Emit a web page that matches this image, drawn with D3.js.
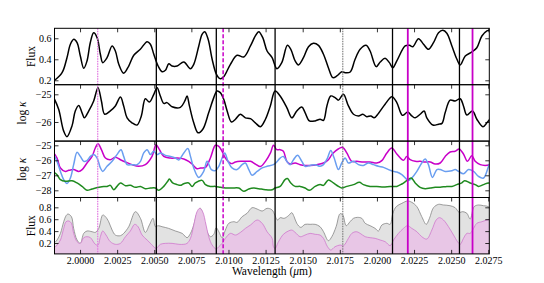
<!DOCTYPE html>
<html>
<head>
<meta charset="utf-8">
<script src="https://cdn.jsdelivr.net/npm/d3@7"></script>
<style>
  body { margin: 0; background: #fff; }
  text { font-family: "Liberation Serif", "Times New Roman", serif; }
</style>
</head>
<body>
<svg id="chart" width="544" height="283"></svg>
<script>
// observed flux (top panel)
const fluxObs = [[1.99823,0.193],[1.99879,0.272],[1.99912,0.415],[1.99935,0.543],[1.99958,0.590],[1.99980,0.558],[2.00002,0.431],[2.00025,0.314],[2.00047,0.384],[2.00069,0.558],[2.00092,0.653],[2.00115,0.606],[2.00137,0.448],[2.00153,0.368],[2.00182,0.415],[2.00216,0.527],[2.00238,0.479],[2.00261,0.352],[2.00294,0.267],[2.00328,0.336],[2.00362,0.438],[2.00406,0.495],[2.00452,0.568],[2.00474,0.543],[2.00497,0.448],[2.00526,0.336],[2.00553,0.282],[2.00575,0.295],[2.00598,0.358],[2.00620,0.336],[2.00654,0.336],[2.00699,0.374],[2.00743,0.310],[2.00766,0.352],[2.00800,0.527],[2.00822,0.638],[2.00840,0.663],[2.00863,0.590],[2.00890,0.400],[2.00919,0.257],[2.00945,0.215],[2.00968,0.234],[2.01013,0.352],[2.01058,0.438],[2.01103,0.422],[2.01148,0.527],[2.01181,0.622],[2.01204,0.663],[2.01231,0.606],[2.01260,0.479],[2.01294,0.415],[2.01326,0.310],[2.01359,0.368],[2.01397,0.533],[2.01420,0.495],[2.01449,0.384],[2.01471,0.346],[2.01505,0.415],[2.01539,0.520],[2.01572,0.552],[2.01606,0.533],[2.01640,0.448],[2.01673,0.320],[2.01703,0.225],[2.01730,0.241],[2.01764,0.282],[2.01786,0.272],[2.01820,0.279],[2.01853,0.400],[2.01887,0.495],[2.01927,0.533],[2.01954,0.479],[2.01995,0.330],[2.02022,0.374],[2.02055,0.410],[2.02084,0.368],[2.02107,0.320],[2.02134,0.384],[2.02190,0.527],[2.02219,0.533],[2.02242,0.520],[2.02280,0.596],[2.02314,0.543],[2.02347,0.495],[2.02381,0.558],[2.02415,0.653],[2.02444,0.676],[2.02471,0.648],[2.02505,0.527],[2.02539,0.400],[2.02561,0.346],[2.02595,0.431],[2.02640,0.470],[2.02673,0.510],[2.02707,0.622],[2.02741,0.670],[2.02763,0.679]];

// total opacity (second panel)
const logKappaTotal = [[1.99823,-25.12],[1.99856,-25.54],[1.99890,-26.33],[1.99912,-26.53],[1.99946,-26.14],[1.99968,-25.60],[1.99991,-25.40],[2.00013,-25.66],[2.00029,-25.85],[2.00059,-25.60],[2.00092,-25.24],[2.00121,-24.76],[2.00144,-25.24],[2.00166,-25.72],[2.00204,-25.60],[2.00238,-25.42],[2.00272,-25.10],[2.00294,-25.42],[2.00317,-25.85],[2.00350,-26.03],[2.00384,-26.11],[2.00413,-25.78],[2.00440,-25.16],[2.00467,-25.28],[2.00497,-25.00],[2.00519,-24.76],[2.00541,-25.06],[2.00564,-25.33],[2.00586,-25.30],[2.00620,-25.45],[2.00676,-25.47],[2.00706,-25.24],[2.00721,-25.06],[2.00737,-25.42],[2.00766,-26.03],[2.00795,-26.39],[2.00827,-26.26],[2.00867,-25.66],[2.00901,-25.12],[2.00923,-24.88],[2.00945,-24.94],[2.00968,-25.18],[2.00991,-25.60],[2.01020,-26.00],[2.01047,-25.90],[2.01080,-25.72],[2.01114,-25.85],[2.01148,-25.88],[2.01181,-26.03],[2.01215,-26.17],[2.01249,-25.90],[2.01282,-25.42],[2.01314,-24.88],[2.01348,-25.06],[2.01393,-25.48],[2.01427,-25.85],[2.01460,-25.60],[2.01494,-25.46],[2.01516,-25.66],[2.01545,-25.96],[2.01584,-25.96],[2.01617,-25.90],[2.01640,-25.94],[2.01663,-25.42],[2.01689,-25.06],[2.01718,-25.12],[2.01741,-25.21],[2.01774,-25.00],[2.01808,-25.42],[2.01842,-25.72],[2.01876,-25.78],[2.01905,-25.72],[2.01932,-25.81],[2.01959,-25.78],[2.01981,-25.85],[2.02010,-25.69],[2.02055,-25.36],[2.02101,-25.09],[2.02134,-25.30],[2.02172,-25.76],[2.02208,-25.64],[2.02235,-25.78],[2.02258,-25.85],[2.02291,-25.72],[2.02318,-25.60],[2.02336,-25.85],[2.02377,-26.11],[2.02415,-26.08],[2.02438,-26.05],[2.02460,-25.66],[2.02493,-25.21],[2.02527,-25.24],[2.02561,-25.16],[2.02583,-25.42],[2.02606,-25.75],[2.02644,-25.60],[2.02673,-25.90],[2.02714,-26.17],[2.02741,-26.03],[2.02768,-25.85]];

// opacity components (third panel)
const kappaMagenta = [[1.99823,-25.51],[1.99845,-25.85],[1.99868,-26.51],[1.99901,-26.74],[1.99924,-26.67],[1.99957,-26.62],[1.99991,-26.74],[2.00014,-26.62],[2.00047,-26.18],[2.00081,-25.74],[2.00103,-25.18],[2.00121,-24.89],[2.00144,-25.29],[2.00171,-25.85],[2.00204,-25.96],[2.00238,-25.80],[2.00272,-25.96],[2.00306,-26.11],[2.00350,-26.29],[2.00395,-26.40],[2.00440,-26.29],[2.00485,-25.74],[2.00512,-24.96],[2.00535,-25.29],[2.00564,-25.74],[2.00609,-25.85],[2.00654,-25.85],[2.00699,-25.91],[2.00732,-26.07],[2.00755,-26.25],[2.00788,-26.56],[2.00811,-26.51],[2.00845,-26.47],[2.00878,-25.85],[2.00912,-25.00],[2.00935,-25.07],[2.00957,-25.40],[2.00979,-25.85],[2.01018,-26.22],[2.01047,-26.11],[2.01081,-26.07],[2.01114,-26.07],[2.01148,-26.07],[2.01182,-26.25],[2.01215,-26.42],[2.01249,-26.07],[2.01283,-25.51],[2.01303,-25.00],[2.01325,-25.29],[2.01348,-25.29],[2.01370,-25.40],[2.01393,-26.07],[2.01415,-26.25],[2.01449,-26.18],[2.01483,-26.29],[2.01516,-26.34],[2.01550,-26.34],[2.01595,-26.29],[2.01640,-26.18],[2.01673,-25.96],[2.01696,-25.62],[2.01718,-25.40],[2.01770,-25.14],[2.01797,-25.51],[2.01831,-26.07],[2.01864,-26.07],[2.01909,-26.11],[2.01954,-26.11],[2.01999,-26.18],[2.02033,-26.02],[2.02067,-25.51],[2.02100,-25.18],[2.02134,-25.58],[2.02179,-26.00],[2.02201,-25.74],[2.02224,-25.96],[2.02258,-26.07],[2.02291,-26.07],[2.02325,-26.11],[2.02359,-26.11],[2.02392,-26.25],[2.02426,-26.18],[2.02460,-25.74],[2.02493,-25.45],[2.02527,-25.40],[2.02554,-25.25],[2.02583,-25.58],[2.02610,-26.07],[2.02639,-25.69],[2.02662,-26.07],[2.02696,-26.29],[2.02729,-26.34],[2.02763,-26.29]];

const kappaBlue = [[1.99823,-25.62],[1.99845,-26.07],[1.99868,-26.74],[1.99890,-27.29],[1.99912,-27.54],[1.99935,-27.18],[1.99957,-26.29],[1.99980,-25.47],[2.00002,-25.74],[2.00025,-26.07],[2.00047,-26.02],[2.00070,-25.74],[2.00092,-25.62],[2.00115,-25.85],[2.00137,-26.51],[2.00153,-26.74],[2.00182,-26.40],[2.00216,-26.07],[2.00249,-25.62],[2.00276,-25.29],[2.00294,-25.74],[2.00317,-26.29],[2.00350,-26.29],[2.00384,-26.29],[2.00407,-26.07],[2.00429,-25.51],[2.00452,-25.29],[2.00474,-25.62],[2.00496,-25.40],[2.00519,-25.62],[2.00541,-25.51],[2.00575,-25.67],[2.00609,-25.74],[2.00642,-25.85],[2.00665,-25.98],[2.00699,-25.51],[2.00726,-25.22],[2.00744,-25.74],[2.00766,-26.51],[2.00800,-27.14],[2.00833,-26.74],[2.00856,-26.07],[2.00885,-26.62],[2.00912,-26.69],[2.00935,-26.40],[2.00957,-25.85],[2.00975,-25.51],[2.00997,-26.07],[2.01024,-26.51],[2.01058,-26.62],[2.01092,-26.29],[2.01114,-26.18],[2.01137,-26.62],[2.01159,-27.00],[2.01193,-26.74],[2.01227,-26.51],[2.01260,-26.40],[2.01303,-26.29],[2.01325,-26.11],[2.01348,-25.85],[2.01370,-25.74],[2.01393,-26.07],[2.01415,-26.29],[2.01438,-25.96],[2.01465,-25.67],[2.01494,-26.07],[2.01516,-26.40],[2.01550,-26.34],[2.01584,-26.29],[2.01617,-26.40],[2.01640,-26.29],[2.01667,-25.85],[2.01689,-25.34],[2.01712,-25.85],[2.01741,-26.62],[2.01763,-26.18],[2.01786,-25.85],[2.01808,-26.18],[2.01842,-26.07],[2.01876,-26.29],[2.01909,-26.34],[2.01943,-26.18],[2.01977,-26.29],[2.02010,-26.40],[2.02044,-26.47],[2.02078,-26.62],[2.02112,-26.74],[2.02134,-26.78],[2.02168,-26.96],[2.02213,-27.34],[2.02235,-27.18],[2.02269,-26.74],[2.02302,-26.18],[2.02325,-25.91],[2.02347,-26.29],[2.02374,-27.14],[2.02404,-26.62],[2.02426,-26.62],[2.02460,-26.74],[2.02505,-26.69],[2.02527,-26.62],[2.02550,-26.74],[2.02583,-26.89],[2.02617,-26.62],[2.02651,-26.74],[2.02684,-27.07],[2.02718,-27.18],[2.02752,-26.40],[2.02767,-26.07]];

const kappaGreen = [[1.99823,-26.78],[1.99845,-26.96],[1.99868,-27.29],[1.99901,-27.40],[1.99946,-27.36],[1.99980,-27.51],[2.00014,-27.74],[2.00047,-28.00],[2.00081,-27.91],[2.00126,-27.80],[2.00160,-27.74],[2.00182,-27.74],[2.00204,-27.67],[2.00227,-27.96],[2.00249,-27.74],[2.00272,-27.51],[2.00306,-27.69],[2.00339,-27.67],[2.00373,-27.80],[2.00407,-27.74],[2.00440,-27.89],[2.00474,-27.85],[2.00508,-27.85],[2.00530,-28.00],[2.00564,-27.74],[2.00593,-27.36],[2.00602,-27.25],[2.00624,-27.51],[2.00654,-27.62],[2.00676,-27.67],[2.00699,-27.56],[2.00732,-27.51],[2.00755,-27.74],[2.00777,-27.51],[2.00822,-27.34],[2.00845,-27.62],[2.00878,-27.74],[2.00912,-27.74],[2.00946,-27.80],[2.00979,-27.85],[2.01024,-27.85],[2.01069,-27.85],[2.01103,-28.07],[2.01137,-27.91],[2.01170,-27.85],[2.01204,-27.89],[2.01249,-27.96],[2.01294,-27.96],[2.01314,-27.85],[2.01348,-27.74],[2.01381,-27.29],[2.01397,-27.22],[2.01420,-27.51],[2.01449,-27.74],[2.01483,-27.74],[2.01516,-27.85],[2.01545,-28.00],[2.01584,-27.74],[2.01617,-27.62],[2.01640,-27.67],[2.01673,-27.31],[2.01707,-27.51],[2.01741,-27.74],[2.01763,-27.85],[2.01797,-27.74],[2.01842,-27.62],[2.01882,-27.47],[2.01909,-27.62],[2.01954,-27.74],[2.01999,-27.74],[2.02044,-27.78],[2.02089,-27.74],[2.02134,-27.74],[2.02168,-27.58],[2.02201,-27.36],[2.02231,-27.18],[2.02258,-27.51],[2.02291,-27.80],[2.02325,-27.89],[2.02359,-27.85],[2.02392,-27.80],[2.02426,-27.80],[2.02471,-27.74],[2.02505,-27.74],[2.02538,-27.62],[2.02572,-27.51],[2.02590,-27.36],[2.02628,-27.51],[2.02662,-27.62],[2.02684,-27.74],[2.02718,-27.62],[2.02752,-27.51],[2.02767,-27.62]];

// model fluxes (bottom panel)
const fluxTotal = [[1.99823,0.194],[1.99845,0.250],[1.99868,0.362],[1.99890,0.558],[1.99906,0.659],[1.99919,0.687],[1.99942,0.643],[1.99957,0.446],[1.99980,0.250],[2.00002,0.194],[2.00025,0.362],[2.00047,0.402],[2.00081,0.390],[2.00103,0.379],[2.00126,0.446],[2.00153,0.671],[2.00171,0.643],[2.00193,0.558],[2.00216,0.418],[2.00238,0.334],[2.00272,0.323],[2.00294,0.362],[2.00328,0.474],[2.00373,0.727],[2.00407,0.615],[2.00440,0.379],[2.00467,0.502],[2.00492,0.615],[2.00508,0.474],[2.00526,0.491],[2.00553,0.474],[2.00597,0.446],[2.00642,0.402],[2.00688,0.362],[2.00721,0.290],[2.00744,0.362],[2.00766,0.502],[2.00788,0.699],[2.00811,0.783],[2.00833,0.615],[2.00856,0.390],[2.00878,0.306],[2.00901,0.346],[2.00917,0.458],[2.00935,0.390],[2.00957,0.290],[2.00979,0.418],[2.01002,0.531],[2.01036,0.558],[2.01058,0.547],[2.01092,0.643],[2.01125,0.699],[2.01159,0.794],[2.01193,0.771],[2.01227,0.738],[2.01260,0.783],[2.01294,0.755],[2.01330,0.587],[2.01348,0.626],[2.01375,0.615],[2.01404,0.659],[2.01426,0.710],[2.01442,0.643],[2.01460,0.531],[2.01487,0.463],[2.01516,0.514],[2.01550,0.514],[2.01584,0.514],[2.01617,0.474],[2.01640,0.390],[2.01673,0.239],[2.01696,0.306],[2.01725,0.474],[2.01752,0.693],[2.01770,0.671],[2.01793,0.491],[2.01819,0.558],[2.01842,0.615],[2.01869,0.631],[2.01898,0.615],[2.01921,0.531],[2.01954,0.491],[2.01988,0.446],[2.02010,0.402],[2.02033,0.502],[2.02067,0.531],[2.02089,0.514],[2.02107,0.699],[2.02130,0.811],[2.02168,0.867],[2.02206,0.906],[2.02235,0.884],[2.02269,0.811],[2.02302,0.643],[2.02332,0.514],[2.02354,0.615],[2.02381,0.794],[2.02415,0.850],[2.02448,0.839],[2.02493,0.827],[2.02527,0.794],[2.02554,0.715],[2.02579,0.727],[2.02606,0.699],[2.02628,0.603],[2.02655,0.811],[2.02684,0.839],[2.02718,0.827],[2.02752,0.811],[2.02767,0.755]];

const fluxPart = [[1.99823,0.110],[1.99845,0.166],[1.99868,0.250],[1.99890,0.446],[1.99906,0.558],[1.99924,0.570],[1.99942,0.531],[1.99957,0.362],[1.99980,0.222],[2.00002,0.194],[2.00025,0.290],[2.00047,0.306],[2.00070,0.290],[2.00103,0.178],[2.00121,0.166],[2.00137,0.306],[2.00153,0.402],[2.00175,0.334],[2.00204,0.222],[2.00238,0.178],[2.00272,0.194],[2.00306,0.306],[2.00339,0.402],[2.00368,0.514],[2.00391,0.474],[2.00418,0.334],[2.00452,0.250],[2.00481,0.178],[2.00512,0.110],[2.00541,0.178],[2.00575,0.194],[2.00620,0.194],[2.00665,0.178],[2.00699,0.178],[2.00721,0.194],[2.00744,0.278],[2.00766,0.502],[2.00788,0.727],[2.00806,0.783],[2.00826,0.727],[2.00849,0.502],[2.00867,0.306],[2.00890,0.166],[2.00917,0.099],[2.00935,0.138],[2.00957,0.194],[2.00979,0.278],[2.01013,0.362],[2.01047,0.334],[2.01081,0.379],[2.01114,0.446],[2.01148,0.502],[2.01193,0.587],[2.01227,0.531],[2.01260,0.390],[2.01294,0.278],[2.01303,0.138],[2.01314,0.110],[2.01337,0.222],[2.01370,0.346],[2.01404,0.402],[2.01426,0.418],[2.01449,0.379],[2.01483,0.306],[2.01516,0.334],[2.01550,0.362],[2.01584,0.346],[2.01617,0.334],[2.01640,0.278],[2.01667,0.138],[2.01689,0.082],[2.01718,0.138],[2.01752,0.166],[2.01775,0.155],[2.01808,0.278],[2.01831,0.362],[2.01860,0.390],[2.01887,0.362],[2.01921,0.306],[2.01954,0.290],[2.01988,0.278],[2.02022,0.250],[2.02056,0.222],[2.02089,0.155],[2.02112,0.250],[2.02145,0.362],[2.02179,0.446],[2.02206,0.491],[2.02235,0.446],[2.02269,0.390],[2.02302,0.306],[2.02336,0.267],[2.02370,0.418],[2.02399,0.587],[2.02421,0.626],[2.02448,0.587],[2.02482,0.474],[2.02516,0.334],[2.02543,0.222],[2.02561,0.178],[2.02583,0.278],[2.02606,0.362],[2.02628,0.362],[2.02651,0.446],[2.02673,0.531],[2.02707,0.558],[2.02740,0.587],[2.02767,0.603]];

// marked wavelengths
const blackLines = [2.00514, 2.00918, 2.01314, 2.02105, 2.02556];
const magentaLines = [2.02208, 2.02644];
const magentaDashed = [2.00964];
const violetDotted = [2.00119];
const grayDotted = [2.01770];

const xTickValues = [2.0000, 2.0025, 2.0050, 2.0075, 2.0100, 2.0125, 2.0150, 2.0175, 2.0200, 2.0225, 2.0250, 2.0275];
const fluxTicks1 = [0.2, 0.4, 0.6];
const kappaTicks1 = [-25, -26];
const kappaTicks2 = [-25, -26, -27, -28];
const fluxTicks2 = [0.2, 0.4, 0.6, 0.8];

const svg = d3.select("#chart");
const left = 54.5, right = 489.3, top0 = 28.3, ph = 56.4;
const bottom = top0 + 4 * ph;

const x = d3.scaleLinear().domain([1.99828, 2.02757]).range([left, right]);

const panels = [
  {domain: [0.158, 0.695], ticks: fluxTicks1, fmt: d3.format(".1f"), label: "Flux"},
  {domain: [-26.69, -24.653], ticks: kappaTicks1, fmt: d3.format("d"), label: "kappa"},
  {domain: [-28.48, -24.72], ticks: kappaTicks2, fmt: d3.format("d"), label: "kappa"},
  {domain: [0.017, 0.965], ticks: fluxTicks2, fmt: d3.format(".1f"), label: "Flux"}
];

panels.forEach((p, i) => {
  p.top = top0 + i * ph;
  p.y = d3.scaleLinear().domain(p.domain).range([p.top + ph, p.top]);
  svg.append("clipPath").attr("id", "clip" + i)
    .append("rect").attr("x", left).attr("y", p.top).attr("width", right - left).attr("height", ph);
});

const line = (ys) => d3.line().x(d => x(d[0])).y(d => ys(d[1])).curve(d3.curveCatmullRom.alpha(0.5));

// panel 1
svg.append("path").datum(fluxObs).attr("clip-path", "url(#clip0)")
  .attr("d", line(panels[0].y)).attr("fill", "none").attr("stroke", "#000").attr("stroke-width", 1.5);

// panel 2
svg.append("path").datum(logKappaTotal).attr("clip-path", "url(#clip1)")
  .attr("d", line(panels[1].y)).attr("fill", "none").attr("stroke", "#000").attr("stroke-width", 1.5);

// panel 3
[[kappaMagenta, "#c800c8"], [kappaBlue, "#6a9ef0"], [kappaGreen, "#1f8a1f"]].forEach(([s, c]) => {
  svg.append("path").datum(s).attr("clip-path", "url(#clip2)")
    .attr("d", line(panels[2].y)).attr("fill", "none").attr("stroke", c).attr("stroke-width", 1.5);
});

// panel 4
const y4 = panels[3].y;
const area = d3.area().x(d => x(d[0])).y0(bottom).y1(d => y4(d[1])).curve(d3.curveCatmullRom.alpha(0.5));
[[fluxTotal, "#e2e2e2", "#858585"], [fluxPart, "#e8c6e6", "#cf78cd"]].forEach(([s, f, c]) => {
  svg.append("path").datum(s).attr("clip-path", "url(#clip3)")
    .attr("d", area).attr("fill", f).attr("stroke", "none");
  svg.append("path").datum(s).attr("clip-path", "url(#clip3)")
    .attr("d", line(y4)).attr("fill", "none").attr("stroke", c).attr("stroke-width", 0.8);
});

// vertical markers
const vlines = (vals, color, width, dash) => {
  svg.append("g").selectAll("line").data(vals).join("line")
    .attr("x1", d => x(d)).attr("x2", d => x(d))
    .attr("y1", top0).attr("y2", bottom)
    .attr("stroke", color).attr("stroke-width", width)
    .attr("stroke-dasharray", dash);
};
vlines(violetDotted, "#e27de2", 1.3, "1.5,1");
vlines(grayDotted, "#777", 1.1, "1.5,1");
vlines(magentaDashed, "#c800c8", 1.5, "4,2");
vlines(blackLines, "#000", 1.3, null);
vlines(magentaLines, "#c800c8", 1.8, null);

// axes and frames
panels.forEach((p, i) => {
  const gl = svg.append("g").attr("transform", `translate(${left},0)`)
    .call(d3.axisLeft(p.y).tickValues(p.ticks).tickSize(-4).tickPadding(3)
      .tickFormat(d => p.fmt(d).replace("-", "\u2212")));
  const gr = svg.append("g").attr("transform", `translate(${right},0)`)
    .call(d3.axisRight(p.y).tickValues(p.ticks).tickSize(-4).tickFormat(""));
  const gt = svg.append("g").attr("transform", `translate(0,${p.top})`)
    .call(d3.axisTop(x).tickValues(xTickValues).tickSize(-4).tickFormat(""));
  [gl, gr, gt].forEach(g => {
    g.select(".domain").remove();
    g.selectAll(".tick line").attr("stroke", "#000").attr("stroke-width", 0.8);
    g.selectAll("text").attr("font-size", 10).attr("fill", "#000")
      .style("font-family", '"Liberation Serif", serif');
  });
  svg.append("rect").attr("x", left).attr("y", p.top).attr("width", right - left).attr("height", ph)
    .attr("fill", "none").attr("stroke", "#000").attr("stroke-width", 1);

  const lbl = svg.append("text")
    .attr("transform", `translate(${p.label === "Flux" ? 34.5 : 25.5},${p.top + ph / 2}) rotate(-90)`)
    .attr("text-anchor", "middle").attr("font-size", 11.5).attr("fill", "#000");
  if (p.label === "Flux") {
    lbl.text("Flux");
  } else {
    lbl.append("tspan").text("log ");
    lbl.append("tspan").attr("font-style", "italic").text("\u03ba");
  }
});

const gb = svg.append("g").attr("transform", `translate(0,${bottom})`)
  .call(d3.axisBottom(x).tickValues(xTickValues).tickSize(-4).tickPadding(3).tickFormat(d3.format(".4f")));
gb.select(".domain").remove();
gb.selectAll(".tick line").attr("stroke", "#000").attr("stroke-width", 0.8);
gb.selectAll("text").attr("font-size", 10).attr("fill", "#000").style("font-family", '"Liberation Serif", serif');

const xl = svg.append("text").attr("x", (left + right) / 2).attr("y", 275)
  .attr("text-anchor", "middle").attr("font-size", 11.5).attr("fill", "#000");
xl.append("tspan").text("Wavelength (");
xl.append("tspan").attr("font-style", "italic").text("\u03bc");
xl.append("tspan").text("m)");
</script>
</body>
</html>
